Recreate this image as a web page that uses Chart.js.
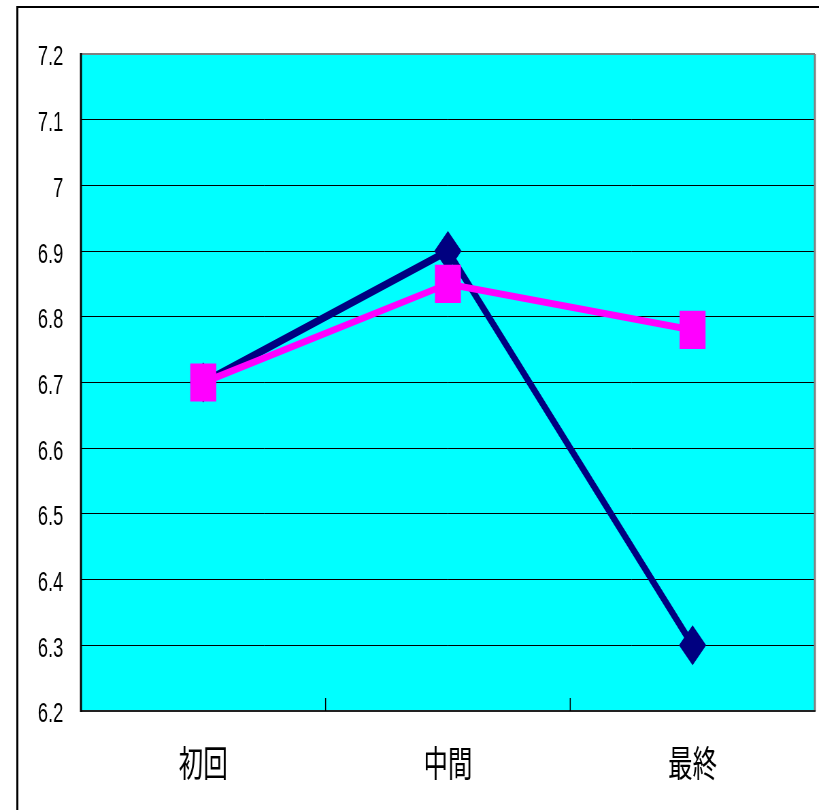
<!DOCTYPE html>
<html>
<head>
<meta charset="utf-8">
<script src="https://cdn.jsdelivr.net/npm/chart.js@4.4.0/dist/chart.umd.min.js"></script>
<style>
  html, body { margin: 0; padding: 0; overflow: hidden; background: #fff; width: 819px; height: 810px; }
  /* the chart is laid out wide and condensed horizontally */
  #wrap { position: absolute; left: 0; top: 0; width: 1204px; height: 810px;
          transform: scaleX(0.6802); transform-origin: 0 0; }
</style>
</head>
<body>
<div id="wrap"><canvas id="c" width="1204" height="810"></canvas></div>
<script>
const categories = ['初回', '中間', '最終'];
const seriesNavy = [6.7, 6.9, 6.3];
const seriesMagenta = [6.7, 6.85, 6.78];
const yTickLabels = ['6.2', '6.3', '6.4', '6.5', '6.6', '6.7', '6.8', '6.9', '7', '7.1', '7.2'];
const yMin = 6.2, yMax = 7.2, yStep = 0.1;

const plotFrame = {
  id: 'plotFrame',
  beforeDraw(chart) {
    const { ctx, chartArea: a, width, height } = chart;
    ctx.save();
    ctx.fillStyle = '#ffffff';
    ctx.fillRect(0, 0, width, height);
    // outer frame
    ctx.strokeStyle = '#000';
    ctx.lineWidth = 3;
    ctx.beginPath(); ctx.moveTo(25.5, 6); ctx.lineTo(25.5, height); ctx.stroke();
    ctx.lineWidth = 2;
    ctx.beginPath(); ctx.moveTo(24, 7); ctx.lineTo(width, 7); ctx.stroke();
    // plot background
    ctx.fillStyle = '#00FFFF';
    ctx.fillRect(a.left, a.top, a.right - a.left, a.bottom - a.top);
    ctx.restore();
  },
  beforeDatasetsDraw(chart) {
    const { ctx, chartArea: a, scales: { x } } = chart;
    ctx.save();
    ctx.strokeStyle = '#808080';
    ctx.lineWidth = 2;
    ctx.beginPath(); ctx.moveTo(a.left, a.top); ctx.lineTo(a.right, a.top); ctx.stroke();
    ctx.lineWidth = 3;
    ctx.beginPath(); ctx.moveTo(a.right, a.top); ctx.lineTo(a.right, a.bottom); ctx.stroke();
    ctx.strokeStyle = '#222';
    ctx.lineWidth = 2;
    ctx.beginPath(); ctx.moveTo(a.left, a.bottom); ctx.lineTo(a.right + 1, a.bottom); ctx.stroke();
    ctx.strokeStyle = '#000';
    ctx.lineWidth = 3;
    ctx.beginPath(); ctx.moveTo(a.left, a.top - 1); ctx.lineTo(a.left, a.bottom + 1); ctx.stroke();
    // short separators between categories along the bottom axis
    ctx.lineWidth = 1.5;
    for (let i = 1; i < categories.length; i++) {
      const xp = (x.getPixelForValue(i - 1) + x.getPixelForValue(i)) / 2;
      ctx.beginPath(); ctx.moveTo(xp, a.bottom - 13); ctx.lineTo(xp, a.bottom); ctx.stroke();
    }
    ctx.restore();
  }
};

new Chart(document.getElementById('c'), {
  type: 'line',
  data: {
    labels: categories,
    datasets: [
      {
        data: seriesNavy,
        borderColor: '#000080',
        backgroundColor: '#000080',
        borderWidth: 8,
        pointStyle: 'rectRot',
        pointRadius: 20,
        pointHoverRadius: 20,
        pointBorderWidth: 0,
        tension: 0,
        order: 2
      },
      {
        data: seriesMagenta,
        borderColor: '#FF00FF',
        backgroundColor: '#FF00FF',
        borderWidth: 7,
        pointStyle: 'rect',
        pointRadius: 27,
        pointHoverRadius: 27,
        pointBorderWidth: 0,
        tension: 0,
        order: 1
      }
    ]
  },
  options: {
    responsive: false,
    animation: false,
    devicePixelRatio: 1,
    layout: { autoPadding: false, padding: { left: 0, top: 54, right: 6, bottom: 0 } },
    plugins: { legend: { display: false }, tooltip: { enabled: false } },
    scales: {
      x: {
        offset: true,
        grid: { display: false, drawTicks: false },
        border: { display: false },
        ticks: {
          color: '#000',
          padding: 31,
          font: { family: '"Noto Sans CJK JP", sans-serif', size: 36 }
        },
        afterFit(scale) {
          scale.height = 99;
          scale.paddingLeft = 0;
          scale.paddingRight = 0;
        }
      },
      y: {
        min: yMin,
        max: yMax,
        grid: { color: '#000', lineWidth: 1, drawTicks: false },
        border: { display: false },
        ticks: {
          stepSize: yStep,
          padding: 26,
          labelOffset: 4,
          color: '#000',
          font: { family: '"Liberation Sans", Arial, sans-serif', size: 27 },
          callback: (v, i) => yTickLabels[i]
        },
        afterFit(scale) {
          scale.width = 119;
          scale.paddingTop = 0;
          scale.paddingBottom = 0;
        }
      }
    }
  },
  plugins: [plotFrame]
});
</script>
</body>
</html>
